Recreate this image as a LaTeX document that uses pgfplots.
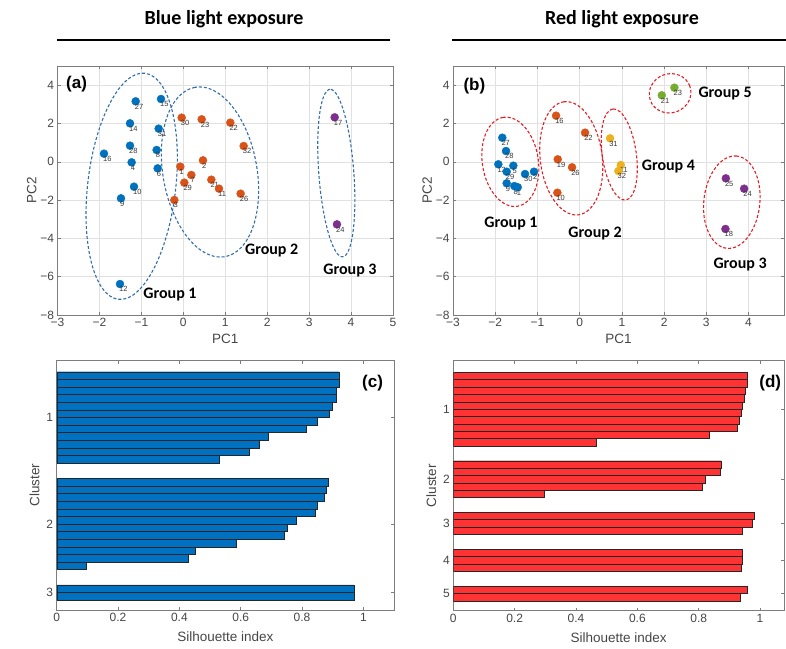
\documentclass[border=0pt]{standalone}
\usepackage{fontspec}
\setmainfont{Liberation Sans}
\newfontfamily\calibri{Carlito}
\usepackage{pgfplots}
\pgfplotsset{compat=1.18}
\usetikzlibrary{shapes.geometric}
\definecolor{mblue}{RGB}{0,114,189}
\definecolor{morange}{RGB}{217,83,25}
\definecolor{myellow}{RGB}{237,177,32}
\definecolor{mpurple}{RGB}{126,47,142}
\definecolor{mgreen}{RGB}{119,172,48}
\definecolor{barblue}{RGB}{0,112,192}
\definecolor{barred}{RGB}{255,51,51}
\definecolor{ellblue}{RGB}{52,110,170}
\definecolor{ellred}{RGB}{225,30,35}
\definecolor{gridc}{RGB}{225,225,225}
\definecolor{axc}{RGB}{125,125,125}
\definecolor{txtc}{RGB}{70,70,70}
\definecolor{labc}{RGB}{55,55,55}

\tikzset{
  ell/.style={draw=#1, dash pattern=on 3pt off 2pt, line width=1.1pt, ellipse, inner sep=0pt, outer sep=0pt},
  grp/.style={font=\calibri\bfseries\fontsize{16}{16}\selectfont, text=black},
  pan/.style={font=\bfseries\fontsize{17}{17}\selectfont, text=black},
}
\pgfplotsset{
  common/.style={scale only axis, anchor=south west,
    axis line style={axc, line width=0.6pt}, tick style={axc, line width=0.5pt},
    tick align=inside, major tick length=3pt,
    tick label style={font=\fontsize{12}{13}\selectfont, text=txtc},
    label style={font=\fontsize{13.5}{15}\selectfont, text=txtc},
    /pgf/number format/assume math mode=true},
  scat/.style={common, height=249pt, xmin=-3, ymin=-8, ymax=5,
    ytick={-8,-6,-4,-2,0,2,4}, yticklabels={−8,−6,−4,−2,0,2,4},
    grid=major, grid style={gridc, line width=0.5pt},
    xlabel={PC1}, ylabel={PC2}, ylabel style={xshift=0pt, yshift=-3pt}},
  dots/.style={only marks, mark=*, mark size=4pt, mark options={draw=#1, fill=#1},
    nodes near coords, point meta=explicit symbolic,
    nodes near coords style={font=\fontsize{7.5}{7.5}\selectfont, text=labc, anchor=north west, inner sep=0pt, xshift=-1pt, yshift=-2.5pt}},
  bars/.style={common, xmin=0, y dir=reverse,
    xtick={0,0.2,0.4,0.6,0.8,1}, xticklabels={0,0.2,0.4,0.6,0.8,1},
    xlabel={Silhouette index}, ylabel={Cluster}, xlabel style={yshift=-3pt}},
  hb/.style={xbar, bar width=1, fill=#1, draw=black!85, line width=0.4pt},
}

\begin{document}
\begin{tikzpicture}
\useasboundingbox (0pt,0pt) rectangle (786pt,648pt);
% headers
\node[font=\calibri\bfseries\fontsize{20}{22}\selectfont] at (224pt,629pt) {Blue light exposure};
\draw[line width=1.6pt] (57pt,608pt) -- (390pt,608pt);
\node[font=\calibri\bfseries\fontsize{20}{22}\selectfont] at (622pt,629pt) {Red light exposure};
\draw[line width=1.6pt] (452pt,608pt) -- (786pt,608pt);

% ---------------- (a) ----------------
\begin{axis}[scat, at={(57.5pt,333pt)}, width=335.5pt, xmax=5,
  xtick={-3,-2,-1,0,1,2,3,4,5}, xticklabels={−3,−2,−1,0,1,2,3,4,5}]
\addplot[dots=mblue] table[meta=l] {
x y l
-1.136 3.155 27
-0.532 3.277 15
-1.271 2.006 14
-0.588 1.728 31
-1.271 0.840 28
-0.636 0.614 8
-1.891 0.422 16
-1.232 -0.030 4
-0.612 -0.344 6
-1.176 -1.301 10
-1.486 -1.910 9
-1.510 -6.384 12
};
\addplot[dots=morange] table[meta=l] {
x y l
-0.039 2.302 30
0.438 2.215 23
1.121 2.041 22
1.439 0.822 32
-0.071 -0.257 1
0.469 0.074 2
0.191 -0.692 7
0.024 -1.092 29
0.668 -0.936 21
0.851 -1.406 11
1.367 -1.667 26
-0.214 -1.997 3
};
\addplot[dots=mpurple] table[meta=l] {
x y l
3.609 2.319 17
3.664 -3.268 24
};
\node[ell=ellblue, minimum width=227.6pt, minimum height=88pt, rotate=83.3] at (axis cs:-1.231,-1.28) {};
\node[ell=ellblue, minimum width=172pt, minimum height=94pt, rotate=100] at (axis cs:0.636,-0.535) {};
\node[ell=ellblue, minimum width=168pt, minimum height=35pt, rotate=94.3] at (axis cs:3.648,-0.59) {};
\node[grp] at (axis cs:-0.318,-6.92) {Group 1};
\node[grp] at (axis cs:2.107,-4.64) {Group 2};
\node[grp] at (axis cs:3.974,-5.69) {Group 3};
\node[pan, anchor=west, inner sep=0pt] at (axis cs:-2.797,4.06) {(a)};
\end{axis}

% ---------------- (b) ----------------
\begin{axis}[scat, at={(453pt,333pt)}, width=331pt, xmax=4.84,
  xtick={-3,-2,-1,0,1,2,3,4}, xticklabels={−3,−2,−1,0,1,2,3,4}]
\addplot[dots=mblue] table[meta=l] {
x y l
-1.832 1.256 27
-1.744 0.561 28
-1.926 -0.133 12
-1.571 -0.206 5
-1.728 -0.520 29
-1.294 -0.640 30
-1.081 -0.520 2
-1.728 -1.125 9
-1.547 -1.270 8
-1.467 -1.330 1
};
\addplot[dots=morange] table[meta=l] {
x y l
-0.559 2.405 16
0.128 1.517 22
-0.519 0.128 19
-0.180 -0.290 26
-0.528 -1.616 10
};
\addplot[dots=myellow] table[meta=l] {
x y l
0.720 1.225 31
0.974 -0.170 11
0.917 -0.483 32
};
\addplot[dots=mgreen] table[meta=l] {
x y l
1.945 3.470 21
2.244 3.867 23
};
\addplot[dots=mpurple] table[meta=l] {
x y l
3.462 -0.865 25
3.896 -1.407 24
3.453 -3.510 18
};
\node[ell=ellred, minimum width=90pt, minimum height=56pt, rotate=99] at (axis cs:-1.642,-0.003) {};
\node[ell=ellred, minimum width=114pt, minimum height=62pt, rotate=97.2] at (axis cs:-0.199,0.18) {};
\node[ell=ellred, minimum width=92pt, minimum height=34pt, rotate=98.1] at (axis cs:0.938,0.379) {};
\node[ell=ellred, minimum width=42pt, minimum height=39pt, rotate=20] at (axis cs:2.142,3.574) {};
\node[ell=ellred, minimum width=92.8pt, minimum height=56pt, rotate=83.8] at (axis cs:3.604,-2.11) {};
\node[grp] at (axis cs:-1.626,-3.214) {Group 1};
\node[grp] at (axis cs:0.365,-3.74) {Group 2};
\node[grp] at (axis cs:3.80,-5.34) {Group 3};
\node[grp] at (axis cs:2.102,-0.258) {Group 4};
\node[grp] at (axis cs:3.445,3.574) {Group 5};
\node[pan, anchor=west, inner sep=0pt] at (axis cs:-2.756,3.96) {(b)};
\end{axis}

% ---------------- (c) ----------------
\begin{axis}[bars, at={(56.7pt,38pt)}, width=337.3pt, height=249.3pt, xmax=1.1,
  ymin=-0.95, ymax=31.8, ytick={6.5,20.5,29.5}, yticklabels={1,2,3}]
\addplot[hb=barblue] table {
x y
0.921 1
0.920 2
0.913 3
0.911 4
0.897 5
0.889 6
0.850 7
0.813 8
0.690 9
0.660 10
0.627 11
0.529 12
0.887 15
0.880 16
0.872 17
0.850 18
0.843 19
0.780 20
0.752 21
0.742 22
0.587 23
0.453 24
0.428 25
0.096 26
0.970 29
0.970 30
};
\node[pan] at (axis cs:1.03,2.02) {(c)};
\end{axis}

% ---------------- (d) ----------------
\begin{axis}[bars, at={(453.3pt,37.3pt)}, width=330.7pt, height=250pt, xmax=1.078,
  ymin=-1.07, ymax=32.85, ytick={5.5,15,21,26,30.5}, yticklabels={1,2,3,4,5}]
\addplot[hb=barred] table {
x y
0.957 1
0.957 2
0.953 3
0.948 4
0.943 5
0.938 6
0.932 7
0.927 8
0.835 9
0.465 10
0.873 13
0.870 14
0.821 15
0.812 16
0.297 17
0.980 20
0.975 21
0.943 22
0.942 25
0.942 26
0.938 27
0.959 30
0.935 31
};
\node[pan] at (axis cs:1.033,2.0) {(d)};
\end{axis}
\end{tikzpicture}
\end{document}
